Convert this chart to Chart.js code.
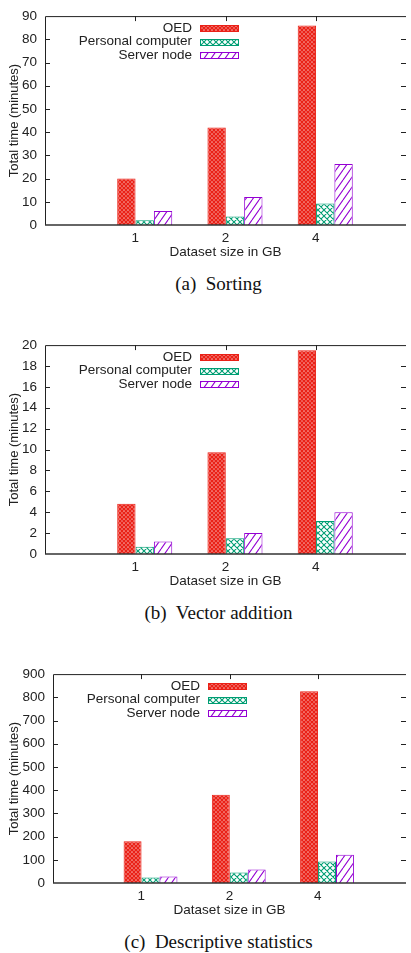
<!DOCTYPE html>
<html>
<head>
<meta charset="utf-8">
<title>Total time by dataset size</title>
<script src="https://cdn.jsdelivr.net/npm/chart.js@4.4.1/dist/chart.umd.min.js"></script>
<style>
  body { margin: 0; background: #fff; width: 411px; overflow: hidden; }
  .panel { width: 411px; height: 329px; }
  canvas { display: block; }
  .caption {
    height: 64px; line-height: 38px; padding-left: 26px; text-align: center;
    font-family: 'Liberation Serif', 'Times New Roman', serif; font-size: 19px;
    color: #111; white-space: pre;
  }
</style>
</head>
<body>
<div class="panel"><canvas id="sorting" width="411" height="265"></canvas><div class="caption">(a)  Sorting</div></div>
<div class="panel"><canvas id="vector" width="411" height="265"></canvas><div class="caption">(b)  Vector addition</div></div>
<div class="panel"><canvas id="stats" width="411" height="265"></canvas><div class="caption">(c)  Descriptive statistics</div></div>

<script>
const categories = ['1', '2', '4'];
const seriesNames = ['OED', 'Personal computer', 'Server node'];
const seriesColors = ['#ea2117', '#009e73', '#9400d3'];

const sortingOED = [20, 42, 86];
const sortingPC = [2.0, 3.7, 9.3];
const sortingServer = [6.0, 12.1, 26.3];
const sortingTicks = [0, 10, 20, 30, 40, 50, 60, 70, 80, 90];

const vectorOED = [4.8, 9.75, 19.5];
const vectorPC = [0.7, 1.5, 3.15];
const vectorServer = [1.2, 2.0, 4.0];
const vectorTicks = [0, 2, 4, 6, 8, 10, 12, 14, 16, 18, 20];

const statsOED = [180, 380, 826];
const statsPC = [24, 45, 93];
const statsServer = [28, 58, 122];
const statsTicks = [0, 100, 200, 300, 400, 500, 600, 700, 800, 900];

Chart.defaults.font.family = '"Liberation Sans", Arial, sans-serif';
Chart.defaults.font.size = 13.5;
Chart.defaults.color = '#222';

// gnuplot-like fill patterns
function makePattern(kind, color) {
    const c = document.createElement('canvas');
    const g = c.getContext('2d');
    let w = 6, h = 6;
    if (kind === 'dense') { w = 4; h = 4; }
    if (kind === 'slash') { w = 7; h = 10; }
    c.width = w; c.height = h;
    g.fillStyle = '#fff';
    g.fillRect(0, 0, w, h);
    g.strokeStyle = color;
    g.lineWidth = kind === 'dense' ? 1.75 : 1.1;
    g.beginPath();
    for (let k = -1; k <= 1; k++) {
        const o = k * w;
        // "/" direction
        g.moveTo(o, h); g.lineTo(o + w, 0);
        if (kind !== 'slash') {
            // "\" direction
            g.moveTo(o, 0); g.lineTo(o + w, h);
        }
    }
    g.stroke();
    return g.createPattern(c, 'repeat');
}

// border, inward tics and the legend, drawn like gnuplot
const gnuplotFrame = {
    id: 'gnuplotFrame',
    afterDatasetsDraw(chart) {
        const ctx = chart.ctx;
        const a = chart.chartArea;
        const xs = chart.scales.x;
        const ys = chart.scales.y;
        ctx.save();
        ctx.strokeStyle = '#222';
        ctx.lineWidth = 1;
        ctx.beginPath();
        ctx.moveTo(a.left + 0.5, a.bottom);
        ctx.lineTo(a.left + 0.5, a.top + 0.5);
        ctx.lineTo(a.right, a.top + 0.5);
        ys.ticks.forEach((t, i) => {
            if (i === 0 || i === ys.ticks.length - 1) return;
            const y = Math.round(ys.getPixelForTick(i)) + 0.5;
            ctx.moveTo(a.left, y); ctx.lineTo(a.left + 5, y);
            ctx.moveTo(a.right - 5, y); ctx.lineTo(a.right, y);
        });
        xs.ticks.forEach((t, i) => {
            if (!t.label) return;
            const x = Math.round(xs.getPixelForTick(i)) + 0.5;
            ctx.moveTo(x, a.top); ctx.lineTo(x, a.top + 5);
        });
        ctx.stroke();

        ctx.strokeStyle = '#333';
        ctx.lineWidth = 1.6;
        ctx.beginPath();
        ctx.moveTo(a.left, a.bottom);
        ctx.lineTo(a.right, a.bottom);
        ctx.stroke();

        ctx.font = '13.5px "Liberation Sans", Arial, sans-serif';
        ctx.textAlign = 'right';
        ctx.textBaseline = 'middle';
        chart.data.datasets.forEach((ds, i) => {
            const y = a.top + 11.7 + i * 13.8;
            const bx = a.left + 155;
            ctx.fillStyle = '#222';
            ctx.fillText(ds.label, bx - 8, y);
            const by = Math.round(y - 3);
            ctx.fillStyle = ds.backgroundColor;
            ctx.fillRect(bx, by, 39, 6);
            ctx.strokeStyle = ds.borderColor;
            ctx.lineWidth = 1;
            ctx.strokeRect(bx + 0.5, by + 0.5, 38, 6);
        });
        ctx.restore();
    }
};

function makeChart(id, oed, pc, server, ticks, axisWidth) {
    const values = [oed, pc, server];
    const kinds = ['dense', 'cross', 'slash'];
    new Chart(document.getElementById(id), {
        type: 'bar',
        data: {
            labels: ['', ...categories, ''],
            datasets: seriesNames.map((name, s) => ({
                label: name,
                data: values[s].map((v, i) => ({ x: i + 1, y: v })),
                xAxisID: 'xb',
                backgroundColor: makePattern(kinds[s], seriesColors[s]),
                borderColor: seriesColors[s],
                borderWidth: 1,
                categoryPercentage: 0.61,
                barPercentage: 1
            }))
        },
        options: {
            responsive: false,
            animation: false,
            layout: { padding: { top: 5, left: 0, right: 0, bottom: 0 } },
            plugins: {
                legend: { display: false },
                tooltip: { enabled: false }
            },
            scales: {
                x: {
                    type: 'category',
                    offset: false,
                    grid: { display: false, drawTicks: false },
                    border: { display: false },
                    ticks: { padding: 5, autoSkip: false, maxRotation: 0 },
                    title: { display: true, text: 'Dataset size in GB', padding: { top: 0, bottom: 5 } },
                    afterFit: (scale) => { scale.height = 40; }
                },
                xb: {
                    type: 'linear',
                    display: false,
                    offset: false,
                    min: -0.105,
                    max: 3.895,
                    afterBuildTicks: (scale) => {
                        scale.ticks = categories.map((c, i) => ({ value: i + 1 }));
                    }
                },
                y: {
                    type: 'linear',
                    min: ticks[0],
                    max: ticks[ticks.length - 1],
                    ticks: { stepSize: ticks[1] - ticks[0], padding: 8 },
                    grid: { display: false, drawTicks: false },
                    border: { display: false },
                    title: {
                        display: true, text: 'Total time (minutes)',
                        font: { size: 13 }, padding: { top: 7, bottom: 0 }
                    },
                    afterFit: (scale) => { scale.width = axisWidth; }
                }
            }
        },
        plugins: [gnuplotFrame]
    });
}

makeChart('sorting', sortingOED, sortingPC, sortingServer, sortingTicks, 45);
makeChart('vector', vectorOED, vectorPC, vectorServer, vectorTicks, 45);
makeChart('stats', statsOED, statsPC, statsServer, statsTicks, 53);
</script>
</body>
</html>
